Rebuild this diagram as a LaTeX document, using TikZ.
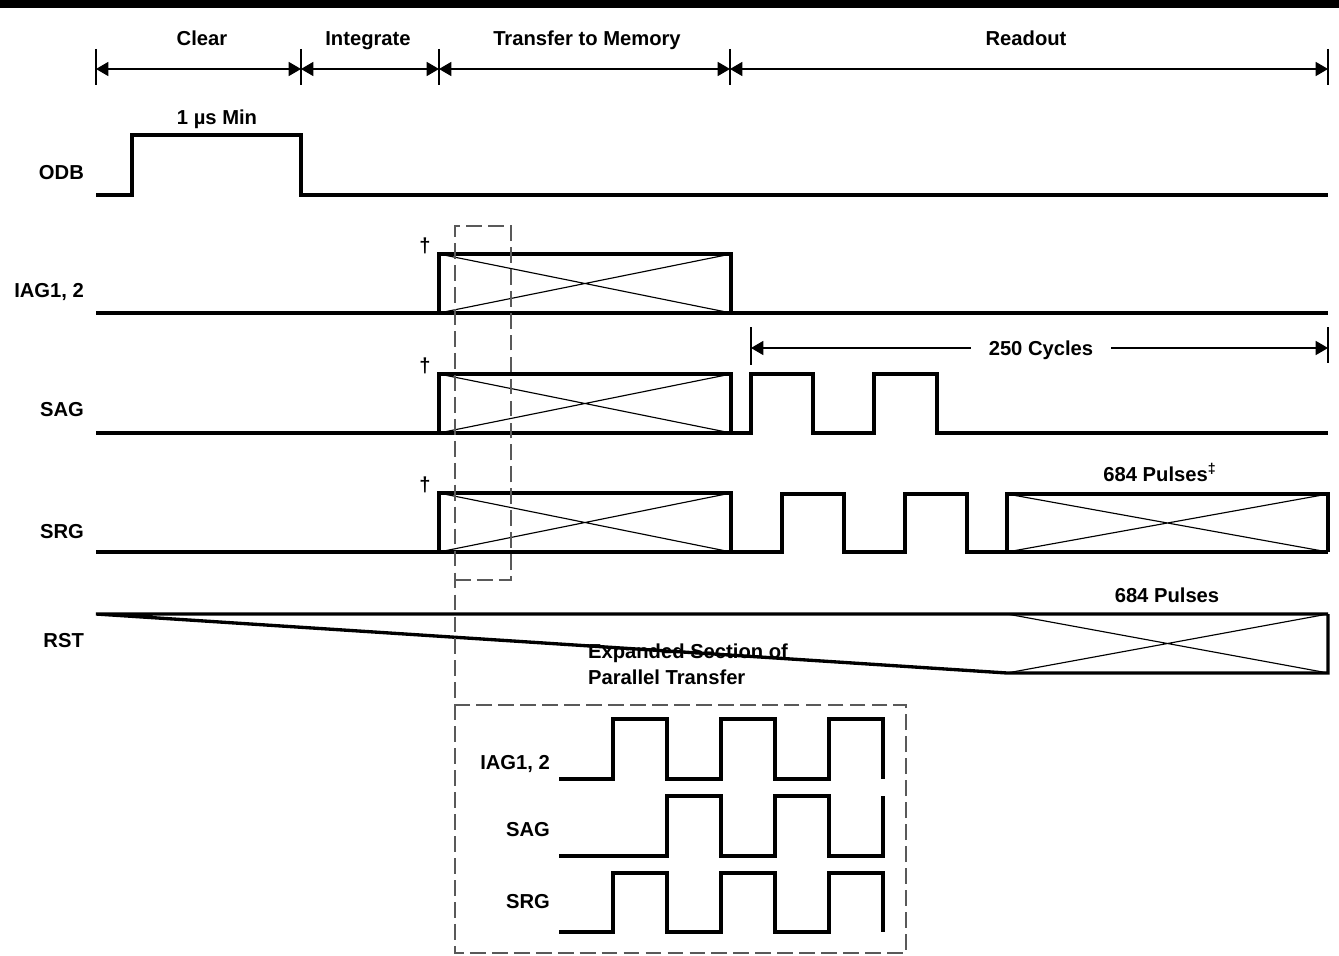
\documentclass[tikz,border=0pt]{standalone}
\usepackage{fontspec}
\setmainfont{Liberation Sans}
\usetikzlibrary{arrows.meta}

\begin{document}
\begin{tikzpicture}[x=0.02cm,y=-0.02cm,>={Triangle[length=7pt,width=8pt]},
  sig/.style={line width=1.9pt},
  fine/.style={line width=0.65pt},
  zoombox/.style={line width=0.6pt,black!65,dash pattern=on 9pt off 3.5pt},
  lbl/.style={font=\fontsize{11.5}{13}\selectfont\bfseries,inner sep=1pt,
    text height=8.3pt,text depth=2.5pt}]
\useasboundingbox (0,0) rectangle (1339,956);
\fill (0,0) rectangle (1339,8);
% phases
\foreach \x in {96,301,439,730,1328}
  \draw[fine] (\x,49) -- (\x,85);
\draw[fine,<->] (96,69) -- (301,69);
\draw[fine,<->] (301,69) -- (439,69);
\draw[fine,<->] (439,69) -- (730,69);
\draw[fine,<->] (730,69) -- (1328,69);
\node[lbl] (clear) at (202,40) {Clear};
\node[lbl] (integ) at (368,40) {Integrate};
\node[lbl] (xfer) at (587,40) {Transfer to Memory};
\node[lbl] (read) at (1026,40) {Readout};
% ODB
\node[lbl,anchor=east] (odb) at (86,174) {ODB};
\node[lbl] (min) at (217,119) {1 µs Min};
\draw[sig] (96,195) -- (132,195) -- (132,135) -- (301,135) -- (301,195) -- (1328,195);
% IAG, SAG, SRG during transfer
\node[lbl,anchor=east] (iag) at (86,292) {IAG1, 2};
\node[lbl,anchor=east] (sag) at (86,411) {SAG};
\node[lbl,anchor=east] (srg) at (86,533) {SRG};
\foreach \lo in {313,433,552}{
  \draw[sig] (439,\lo) -- (439,\lo-59) -- (731,\lo-59) -- (731,\lo);
  \draw[fine] (439,\lo-59) -- (731,\lo) (439,\lo) -- (731,\lo-59);
  \node[lbl] (dag\lo) at (425,\lo-66) {†};
}
\draw[sig] (96,313) -- (1328,313);
\draw[sig] (96,433) -- (751,433) -- (751,374) -- (813,374) -- (813,433) -- (874,433)
  -- (874,374) -- (937,374) -- (937,433) -- (1328,433);
\draw[sig] (96,552) -- (782,552) -- (782,494) -- (844,494) -- (844,552) -- (905,552)
  -- (905,494) -- (967,494) -- (967,552) -- (1328,552);
\draw[sig] (1007,552) -- (1007,494) -- (1328,494) -- (1328,552);
\draw[fine] (1007,494) -- (1328,552) (1007,552) -- (1328,494);
\node[lbl] (srgp) at (1160,476) {684 Pulses\textsuperscript{‡}};
% 250 cycles
\draw[fine] (751,327) -- (751,365);
\draw[fine] (1328,327) -- (1328,363);
\node[lbl,fill=white,inner xsep=10pt] (cyc) at (1041,350) {250 Cycles};
\draw[fine,<-] (751,348) -- (cyc.west |- 0,348);
\draw[fine,->] (cyc.east |- 0,348) -- (1328,348);
% RST
\node[lbl,anchor=east] (rst) at (86,642) {RST};
\node[lbl] (rstp) at (1167,597) {684 Pulses};
\node[lbl,anchor=west] (exp) at (586,653) {Expanded Section of};
\node[lbl,anchor=west] (par) at (586,679) {Parallel Transfer};
\draw[sig] (1328,614) -- (96,614) -- (1007,673) -- (1328,673) -- (1328,614);
\draw[fine] (1007,614) -- (1328,673) (1007,673) -- (1328,614);
% expanded section
\draw[zoombox] (455,580) -- (511,580) -- (511,226) -- (455,226) -- (455,953) -- (906,953)
  -- (906,705) -- (455,705);
\node[lbl,anchor=east] (eiag) at (552,764) {IAG1, 2};
\node[lbl,anchor=east] (esag) at (552,831) {SAG};
\node[lbl,anchor=east] (esrg) at (552,903) {SRG};
\draw[sig] (559,779) -- (613,779) -- (613,719) -- (667,719) -- (667,779) -- (721,779)
  -- (721,719) -- (775,719) -- (775,779) -- (829,779) -- (829,719) -- (883,719) -- (883,779);
\draw[sig] (559,856) -- (667,856) -- (667,796) -- (721,796) -- (721,856) -- (775,856)
  -- (775,796) -- (829,796) -- (829,856) -- (883,856) -- (883,796);
\draw[sig] (559,932) -- (613,932) -- (613,873) -- (667,873) -- (667,932) -- (721,932)
  -- (721,873) -- (775,873) -- (775,932) -- (829,932) -- (829,873) -- (883,873) -- (883,932);
\end{tikzpicture}
\end{document}
